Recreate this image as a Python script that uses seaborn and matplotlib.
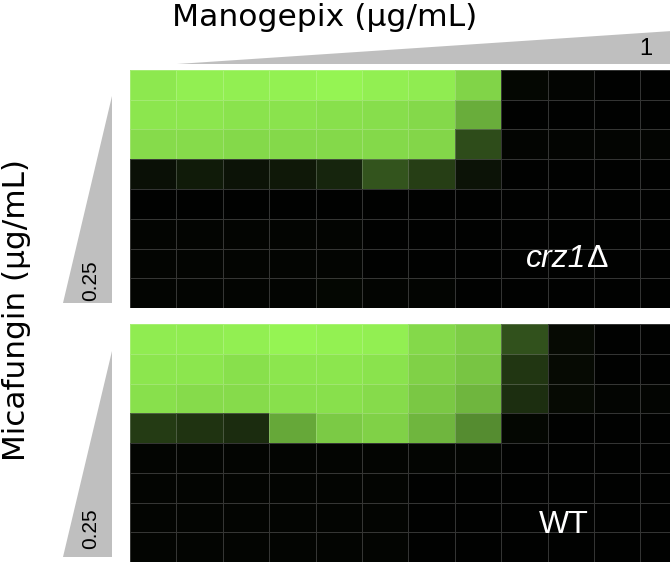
import numpy as np
import pandas as pd
import matplotlib
matplotlib.use("Agg")
import matplotlib.pyplot as plt
from matplotlib.colors import LinearSegmentedColormap
from matplotlib.patches import Polygon
import seaborn as sns

# ---- data (fraction of max green signal) ----
manogepix_cols = [f"M{i+1}" for i in range(12)]
micafungin_rows = [f"C{i+1}" for i in range(8)]

crz1_values = [
    [0.94, 0.97, 0.97, 0.98, 0.99, 0.97, 0.96, 0.86, 0.03, 0.02, 0.01, 0.01],
    [0.93, 0.93, 0.92, 0.92, 0.91, 0.90, 0.88, 0.70, 0.01, 0.01, 0.01, 0.01],
    [0.89, 0.89, 0.88, 0.88, 0.88, 0.88, 0.87, 0.31, 0.02, 0.02, 0.02, 0.02],
    [0.07, 0.11, 0.08, 0.10, 0.15, 0.34, 0.25, 0.08, 0.01, 0.01, 0.01, 0.01],
    [0.01, 0.01, 0.01, 0.01, 0.01, 0.01, 0.01, 0.01, 0.01, 0.01, 0.01, 0.01],
    [0.02, 0.02, 0.02, 0.02, 0.02, 0.01, 0.01, 0.01, 0.01, 0.01, 0.01, 0.01],
    [0.02, 0.02, 0.02, 0.02, 0.02, 0.01, 0.01, 0.01, 0.01, 0.01, 0.01, 0.01],
    [0.02, 0.02, 0.02, 0.02, 0.03, 0.02, 0.02, 0.01, 0.01, 0.01, 0.01, 0.01],
]

wt_values = [
    [0.96, 0.96, 0.97, 0.99, 0.98, 0.97, 0.88, 0.83, 0.33, 0.04, 0.01, 0.01],
    [0.93, 0.93, 0.91, 0.93, 0.93, 0.92, 0.85, 0.80, 0.22, 0.04, 0.01, 0.01],
    [0.91, 0.89, 0.89, 0.91, 0.91, 0.89, 0.81, 0.74, 0.19, 0.04, 0.02, 0.02],
    [0.24, 0.21, 0.18, 0.68, 0.82, 0.85, 0.74, 0.57, 0.03, 0.01, 0.01, 0.01],
    [0.02, 0.02, 0.02, 0.02, 0.02, 0.02, 0.02, 0.02, 0.01, 0.01, 0.01, 0.01],
    [0.02, 0.02, 0.02, 0.02, 0.02, 0.02, 0.01, 0.01, 0.01, 0.01, 0.01, 0.01],
    [0.02, 0.02, 0.02, 0.02, 0.02, 0.02, 0.01, 0.01, 0.01, 0.01, 0.01, 0.01],
    [0.02, 0.02, 0.02, 0.02, 0.02, 0.02, 0.01, 0.01, 0.01, 0.01, 0.01, 0.01],
]

gene_label = "crz1"
delta_label = "Δ"
wt_label = "WT"
x_title = "Manogepix (µg/mL)"
y_title = "Micafungin (µg/mL)"
x_max_label = "1"
y_max_label = "0.25"

# ---- figure ----
W, H = 670, 562
fig = plt.figure(figsize=(W / 100, H / 100), dpi=100)
fig.patch.set_facecolor("white")

cmap = LinearSegmentedColormap.from_list("blackgreen", ["#000000", "#96F654"])

def px_axes(left, top, width, height):
    return fig.add_axes([left / W, 1 - (top + height) / H, width / W, height / H])

panels = [(crz1_values, 70), (wt_values, 324)]
for vals, top in panels:
    ax = px_axes(130, top, 12 * 46.4, 238)
    df = pd.DataFrame(vals, index=micafungin_rows, columns=manogepix_cols)
    sns.heatmap(df, ax=ax, cmap=cmap, vmin=0, vmax=1, cbar=False,
                xticklabels=False, yticklabels=False,
                linewidths=0.7, linecolor=(1, 1, 1, 0.2))
    ax.set_xlabel("")
    ax.set_ylabel("")

# ---- overlay for wedges and text ----
ov = fig.add_axes([0, 0, 1, 1], facecolor="none")
ov.set_xlim(0, W)
ov.set_ylim(H, 0)
ov.axis("off")

gray = "#BFBFBF"
ov.add_patch(Polygon([[177, 63.5], [672, 63.5], [672, 31]], closed=True,
                     facecolor=gray, edgecolor="none"))
for top, bot in [(96, 303), (351, 557)]:
    ov.add_patch(Polygon([[112, top], [112, bot], [63, bot]], closed=True,
                         facecolor=gray, edgecolor="none"))

ov.text(325, 25.5, x_title, ha="center", va="baseline", fontsize=22.6,
        family="DejaVu Sans", color="black")
ov.text(25, 310, y_title, ha="center", va="baseline", rotation=90,
        rotation_mode="anchor", fontsize=22.4, family="DejaVu Sans", color="black")

ov.text(646, 55, x_max_label, ha="center", va="baseline", fontsize=17,
        family="Liberation Sans", color="black")
for cy in (280.5, 529):
    ov.text(90.5, cy, y_max_label, ha="center", va="center", rotation=90,
            fontsize=15, family="Liberation Sans", color="black")

ov.text(586, 267, gene_label, ha="right", va="baseline", fontsize=23,
        family="Liberation Sans", style="italic", color="white")
ov.text(587, 267, delta_label, ha="left", va="baseline", fontsize=23,
        family="Liberation Sans", color="white")
ov.text(564, 533, wt_label, ha="center", va="baseline", fontsize=23,
        family="Liberation Sans", color="white")

fig.savefig("out.png", dpi=100, facecolor="white")
